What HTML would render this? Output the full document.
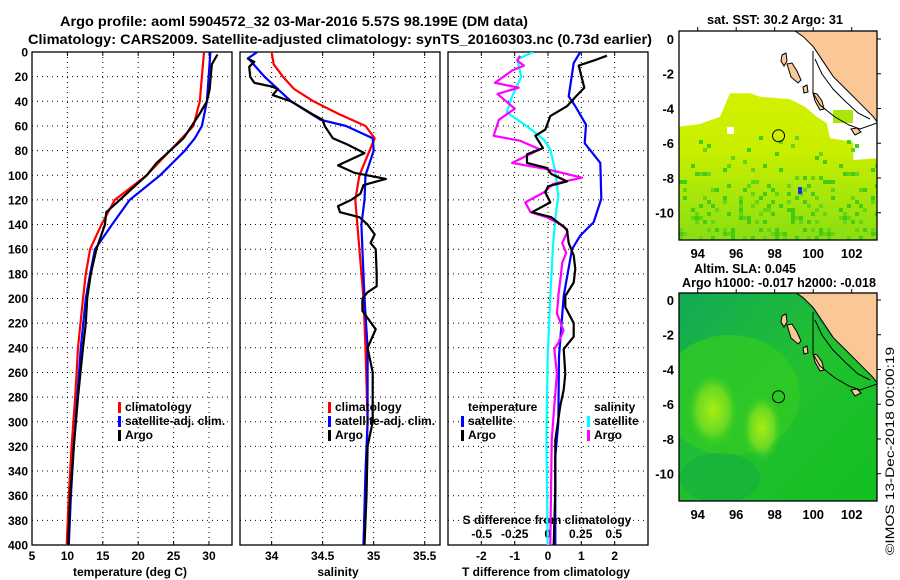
<!DOCTYPE html>
<html><head><meta charset="utf-8"><style>
html,body{margin:0;padding:0;background:#fff;}
svg{display:block;font-family:"Liberation Sans",sans-serif;font-weight:bold;}
</style></head><body>
<svg id="fig" width="900" height="580" viewBox="0 0 900 580" xmlns="http://www.w3.org/2000/svg">
<defs>
<clipPath id="c1"><rect x="32" y="52" width="200" height="493"/></clipPath>
<clipPath id="c2"><rect x="240" y="52" width="200" height="493"/></clipPath>
<clipPath id="c3"><rect x="448" y="52" width="200" height="493"/></clipPath>
<clipPath id="cm1"><rect x="679" y="31" width="198" height="209"/></clipPath>
<clipPath id="cm2"><rect x="679" y="293" width="198" height="208"/></clipPath>
<linearGradient id="sstg" x1="0" y1="0" x2="0" y2="1">
<stop offset="0" stop-color="#d4f000"/><stop offset="0.4" stop-color="#c8ee00"/><stop offset="0.7" stop-color="#a8e60a"/><stop offset="1" stop-color="#8ade12"/></linearGradient>
<radialGradient id="bl1" cx="0.5" cy="0.5" r="0.5"><stop offset="0" stop-color="#aaee11"/><stop offset="0.6" stop-color="#77dd22" stop-opacity="0.85"/><stop offset="1" stop-color="#33cc22" stop-opacity="0"/></radialGradient>
<linearGradient id="slag" x1="0" y1="0" x2="1" y2="1"><stop offset="0" stop-color="#11aa55"/><stop offset="0.5" stop-color="#22c030"/><stop offset="1" stop-color="#11c020"/></linearGradient>
</defs>
<text x="60" y="26" font-size="14" textLength="468" lengthAdjust="spacingAndGlyphs">Argo profile: aoml 5904572_32 03-Mar-2016 5.57S 98.199E (DM data)</text>
<text x="28" y="44" font-size="14" textLength="624" lengthAdjust="spacingAndGlyphs">Climatology: CARS2009. Satellite-adjusted climatology: synTS_20160303.nc (0.73d earlier)</text>
<g id="p1"></g>
<g id="p2"></g>
<g id="p3"></g>
<g id="m1"></g>
<g id="m2"></g>
<text font-size="12" style="font-weight:normal" transform="translate(894,555) rotate(-90)" textLength="208" lengthAdjust="spacingAndGlyphs">©IMOS 13-Dec-2018 00:00:19</text>
</svg>
<script>
// ---------- data ----------
const depthTicks = [0,20,40,60,80,100,120,140,160,180,200,220,240,260,280,300,320,340,360,380,400];
const tempTicks = [5,10,15,20,25,30];
const salTicks = [34,34.5,35,35.5];
const tdiffTicks = [-2,-1,0,1,2];
const sdiffTicks = [-0.5,-0.25,0,0.25,0.5];
const lonTicks = [94,96,98,100,102];
const latTicks = [0,-2,-4,-6,-8,-10];

const tClimDepth = [0,40,60,80,100,120,140,160,180,200,240,280,320,360,400];
const tClimVal   = [29.3,28.7,27.8,24.5,21.2,16.7,14.8,13.2,12.6,12.2,11.5,11.1,10.6,10.2,9.9];
const tSatDepth  = [0,40,60,70,80,100,120,140,160,180,200,240,280,320,360,400];
const tSatVal    = [30.2,29.7,29.0,28.0,26.6,23.1,18.8,16.3,13.9,13.2,12.6,11.9,11.4,10.9,10.5,10.2];
const tArgoDepth = [2,10,30,40,50,70,80,90,100,110,120,130,140,160,180,200,220,240,280,320,360,400];
const tArgoVal   = [31.2,30.4,30.1,29.7,28.7,26.4,24.5,22.6,21.2,19.3,17.4,15.5,15.3,14.1,13.3,12.8,12.6,12.2,11.5,10.9,10.4,10.1];

const sClimDepth = [0,10,20,30,40,50,60,70,80,100,120,160,200,240,300,360,400];
const sClimVal   = [34.0,34.02,34.11,34.22,34.41,34.65,34.92,35.01,34.96,34.86,34.82,34.86,34.90,34.92,34.94,34.92,34.90];
const sSatDepth  = [0,5,20,40,55,60,70,80,100,120,140,160,200,240,300,340,400];
const sSatVal    = [33.86,33.77,33.93,34.19,34.48,34.73,34.99,35.0,34.92,34.91,34.88,34.89,34.91,34.94,34.94,34.92,34.90];
const sArgoDepth = [5,8,12,20,25,28,30,35,40,50,55,60,70,75,82,92,98,103,108,115,120,125,130,134,140,148,155,160,180,190,195,200,210,225,240,260,300,320,360,400];
const sArgoVal   = [33.76,33.83,33.78,33.79,33.83,34.0,34.06,34.01,34.19,34.39,34.5,34.52,34.60,34.74,34.91,34.65,34.81,35.12,34.90,34.87,34.78,34.65,34.67,34.86,34.94,35.01,34.97,35.02,35.03,35.03,34.94,34.89,34.89,35.02,34.94,34.99,34.99,34.94,34.93,34.91];

const dtSatDepth = [0,9,36,44,59,74,90,119,138,149,160,198,247,301,328,400];
const dtSatVal   = [0.97,0.77,0.62,0.82,1.14,1.10,1.57,1.60,1.37,0.97,0.72,0.47,0.33,0.31,0.22,0.22];
const dtArgoDepth = [3,6,11,29,36,44,52,63,68,78,83,90,94,99,105,109,114,122,130,134,144,155,165,176,187,198,207,220,231,241,261,274,287,315,355,400];
const dtArgoVal   = [1.77,1.47,0.92,1.09,0.84,0.57,0.07,-0.08,-0.38,-0.15,-0.63,-0.63,-0.04,0.10,0.57,0.0,-0.08,0.07,-0.48,0.10,0.57,0.62,0.77,0.82,0.77,0.52,0.52,0.77,0.77,0.47,0.52,0.47,0.37,0.22,0.22,0.17];
const dsSatDepth = [0,6,20,36,49,60,71,79,98,117,133,157,198,247,312,400];
const dsSatVal   = [-0.11,-0.23,-0.20,-0.27,-0.31,-0.16,-0.03,0.02,0.06,0.08,0.06,0.04,0.02,0.0,-0.01,0.0];
const dsArgoDepth = [3,7,11,15,25,29,34,46,55,68,72,79,90,95,102,107,114,122,130,134,141,146,155,163,171,181,198,200,212,226,236,241,261,287,315,400];
const dsArgoVal   = [-0.21,-0.23,-0.18,-0.27,-0.40,-0.22,-0.38,-0.25,-0.37,-0.41,-0.21,-0.06,-0.27,-0.01,0.26,0.04,-0.03,-0.17,-0.13,-0.01,0.12,0.15,0.11,0.14,0.11,0.10,0.08,0.08,0.07,0.12,0.08,0.05,0.07,0.05,0.03,0.02];

const argoLon = 98.199, argoLat = -5.57;

// ---------- helpers ----------
const NS = "http://www.w3.org/2000/svg";
function mk(parent, tag, attrs, text){
  const e = document.createElementNS(NS, tag);
  for (const k in attrs) e.setAttribute(k, attrs[k]);
  if (text !== undefined) e.textContent = text;
  parent.appendChild(e); return e;
}
const Y0 = 52, Y1 = 545;
const yD = d => Y0 + d*(Y1-Y0)/400;

function panel(g, x0, x1, vmin, vmax){
  const xs = v => x0 + (v - vmin)*(x1-x0)/(vmax-vmin);
  const grid = mk(g,'g',{});
  
  
  depthTicks.forEach(d=>{ if(d>0&&d<400){ const l=mk(grid,'line',{x1:x0,x2:x1,y1:yD(d),y2:yD(d),stroke:'#000','stroke-width':1,'stroke-dasharray':'1,4'});
    
     }});
  const fr = mk(g,'rect',{x:x0,y:Y0,width:x1-x0,height:Y1-Y0,fill:'none',stroke:'#000','stroke-width':1.3});
  
  
  return {xs};
}
function vgrid(g, xs, vals){
  vals.forEach(v=>{ const x=xs(v);
    const l=mk(g,'line',{x1:x,x2:x,y1:Y0,y2:Y1,stroke:'#000','stroke-width':1,'stroke-dasharray':'1,4'});
    
    
    const t1=mk(g,'line',{x1:x,x2:x,y1:Y0,y2:Y0+4,stroke:'#000'});
    
    
    const t2=mk(g,'line',{x1:x,x2:x,y1:Y1,y2:Y1-4,stroke:'#000'});
    
    
  });
}
function series(g, xs, clip, depths, vals, color, name){
  const pts = depths.map((d,i)=> xs(vals[i]).toFixed(1)+','+yD(d).toFixed(1)).join(' ');
  const p = mk(g,'polyline',{points:pts,fill:'none',stroke:color,'stroke-width':2.2,'clip-path':'url(#'+clip+')','stroke-linejoin':'round'});
  
  
}
function label(g, x, y, txt, name, anchor, size){
  const t = mk(g,'text',{x:x,y:y,'font-size':size||12,'text-anchor':anchor||'middle'}, txt);
  
  
  return t;
}
function legend(g, x, y, color, txt){
  const r = mk(g,'rect',{x:x,y:y-9,width:3,height:11,fill:color});
  
  
  label(g, x+7, y, txt, 'legend-entry', 'start', 12);
}

// ---------- panel 1: temperature ----------
const g1 = document.getElementById('p1');
const P1 = panel(g1, 32, 232, 5, 33.25);
vgrid(g1, P1.xs, [10,15,20,25,30]);
depthTicks.forEach(d=> label(g1, 28, yD(d)+4.5, String(d), 'y-tick-label', 'end', 12));
tempTicks.forEach(v=> label(g1, P1.xs(v), 560, String(v), 'x-tick-label'));
label(g1, 130, 576, 'temperature (deg C)', 'x-axis-title');
series(g1, P1.xs, 'c1', tClimDepth, tClimVal, '#ff0000', 'temp-climatology-line');
series(g1, P1.xs, 'c1', tSatDepth, tSatVal, '#0000ff', 'temp-satellite-line');
series(g1, P1.xs, 'c1', tArgoDepth, tArgoVal, '#000000', 'temp-argo-line');
legend(g1, 118, 411, '#ff0000', 'climatology');
legend(g1, 118, 425, '#0000ff', 'satellite-adj. clim.');
legend(g1, 118, 439, '#000000', 'Argo');

// ---------- panel 2: salinity ----------
const g2 = document.getElementById('p2');
const P2 = panel(g2, 240, 440, 33.69, 35.65);
vgrid(g2, P2.xs, salTicks);
salTicks.forEach(v=> label(g2, P2.xs(v), 560, String(v), 'x-tick-label'));
label(g2, 338, 576, 'salinity', 'x-axis-title');
series(g2, P2.xs, 'c2', sClimDepth, sClimVal, '#ff0000', 'sal-climatology-line');
series(g2, P2.xs, 'c2', sSatDepth, sSatVal, '#0000ff', 'sal-satellite-line');
series(g2, P2.xs, 'c2', sArgoDepth, sArgoVal, '#000000', 'sal-argo-line');
legend(g2, 328, 411, '#ff0000', 'climatology');
legend(g2, 328, 425, '#0000ff', 'satellite-adj. clim.');
legend(g2, 328, 439, '#000000', 'Argo');

// ---------- panel 3: differences ----------
const g3 = document.getElementById('p3');
const P3 = panel(g3, 448, 648, -3, 3);
const xsS = v => 547.7 + v*132;
vgrid(g3, P3.xs, tdiffTicks);
tdiffTicks.forEach(v=> label(g3, P3.xs(v), 560, String(v), 'x-tick-label'));
label(g3, 546, 576, 'T difference from climatology', 'x-axis-title');
label(g3, 547, 524, 'S difference from climatology', 'secondary-axis-title');
sdiffTicks.forEach(v=> label(g3, xsS(v), 538, String(v), 'secondary-tick-label'));
series(g3, xsS, 'c3', dsSatDepth, dsSatVal, '#00ffff', 'sdiff-satellite-line');
series(g3, P3.xs, 'c3', dtSatDepth, dtSatVal, '#0000ff', 'tdiff-satellite-line');
series(g3, xsS, 'c3', dsArgoDepth, dsArgoVal, '#ff00ff', 'sdiff-argo-line');
series(g3, P3.xs, 'c3', dtArgoDepth, dtArgoVal, '#000000', 'tdiff-argo-line');
label(g3, 468, 411, 'temperature', 'legend-header', 'start');
legend(g3, 461, 425, '#0000ff', 'satellite');
legend(g3, 461, 439, '#000000', 'Argo');
label(g3, 594, 411, 'salinity', 'legend-header', 'start');
legend(g3, 587, 425, '#00ffff', 'satellite');
legend(g3, 587, 439, '#ff00ff', 'Argo');

// ---------- maps ----------
const MX0 = 679, MX1 = 877;
const lonX = lon => 697.7 + (lon-94)*19.25;
function coast(g, off, clip){
  const gg = mk(g,'g',{'clip-path':'url(#'+clip+')'});
  const land = mk(gg,'polygon',{points:[[795,-8],[803.3,-2.3],[813.3,7.7],[823.3,22.7],[833.3,37.7],[846.7,51],[860,64.3],[873.3,77.7],[877,82.7],[880,82.7],[880,-8]].map(p=>p[0]+','+(p[1]+off)).join(' '),fill:'#fac896',stroke:'#000','stroke-width':1});
  
  
  const islands = [[[782,16],[786,14],[787,22],[784,27],[781,22]],[[787,25],[792,24],[797,32],[801,41],[798,44],[791,38]],[[803,48],[807,46],[808,53],[804,54]],[[813,54],[817,55],[822,62],[824,70],[820,71],[815,62]],[[851,90],[857,89],[861,93],[855,96]]];
  islands.forEach(pts=>{ const p=mk(gg,'polygon',{points:pts.map(q=>q[0]+','+(q[1]+off)).join(' '),fill:'#fac896',stroke:'#000','stroke-width':1});
    
     });
  const c1 = mk(gg,'polyline',{points:[[813,12],[813,54],[820,66],[835,78],[849,86],[860,90],[877,84]].map(q=>q[0]+','+(q[1]+off)).join(' '),fill:'none',stroke:'#000','stroke-width':1});
  
  
  const c2 = mk(gg,'polyline',{points:[[815,20],[822,35],[833,50],[845,62],[858,74],[870,80]].map(q=>q[0]+','+(q[1]+off)).join(' '),fill:'none',stroke:'#000','stroke-width':1});
  
  
}
function mapAxes(g, latY, yTop, yBot){
  const fr = mk(g,'rect',{x:MX0,y:yTop,width:MX1-MX0,height:yBot-yTop,fill:'none',stroke:'#000','stroke-width':1.3});
  
  
  latTicks.forEach(l=>{ const y=latY(l);
    label(g, 674, y+5, String(l), 'lat-tick-label', 'end', 13);
    const t=mk(g,'line',{x1:MX1,x2:MX1+4,y1:y,y2:y,stroke:'#000'});
    
    
  });
  lonTicks.forEach(l=>{ const x=lonX(l);
    label(g, x, yBot+18, String(l), 'lon-tick-label', 'middle', 13);
    const t=mk(g,'line',{x1:x,x2:x,y1:yTop,y2:yTop-4,stroke:'#000'});
    
    
  });
}
// SST map
const m1 = document.getElementById('m1');
const lat1 = lat => 39 - lat*17.37;
const t1 = label(m1, 775, 24, 'sat. SST: 30.2 Argo: 31', 'sst-map-title', 'middle', 13);
t1.setAttribute('textLength','136'); t1.setAttribute('lengthAdjust','spacingAndGlyphs');
const sst = mk(m1,'polygon',{points:'679,126.7 700,124 720,116.7 730,93.3 750,93.3 760,96.7 790,99.3 805,106.7 816.7,116.7 826.7,123.3 830,138.3 853.3,141.7 853.3,160 877,158.3 877,240 679,240',fill:'url(#sstg)'});


const sstp = mk(m1,'polygon',{points:'833,110 853,110 853,123 833,123',fill:'#aae60a'});


const cells = mk(m1,'g',{'clip-path':'url(#cm1)'});
for(let i=0;i<50;i++){ for(let j=0;j<28;j++){
  const x = 679 + i*4, y = 128 + j*4;
  const h = ((i*73 + j*151 + i*j*17) % 37);
  if (y > 135 && h < 2 + Math.max(0,(y-160)/8)) {
    const r = mk(cells,'rect',{x:x,y:y,width:4,height:4,fill: h%2? '#66d514':'#44cc10'});
    
    
  }}}
const wh = mk(m1,'rect',{x:727,y:127,width:7,height:7,fill:'#fff'});


const bluecell = mk(m1,'rect',{x:798,y:187,width:4,height:7,fill:'#1133ee'});


coast(m1, 39, 'cm1');
const ci1 = mk(m1,'circle',{cx:lonX(argoLon),cy:lat1(argoLat),r:6,fill:'none',stroke:'#000','stroke-width':1});


mapAxes(m1, lat1, 31, 240);

// SLA map
const m2 = document.getElementById('m2');
const lat2 = lat => 300 - lat*17.37;
const gb = mk(m2,'g',{'clip-path':'url(#cm2)'});
const bg = mk(gb,'rect',{x:MX0,y:293,width:198,height:208,fill:'url(#slag)'});


const ew = mk(gb,'ellipse',{cx:730,cy:395,rx:70,ry:60,fill:'#33cc22',opacity:0.7});


const b1 = mk(gb,'ellipse',{cx:713,cy:410,rx:26,ry:38,fill:'url(#bl1)'});


const b2 = mk(gb,'ellipse',{cx:762,cy:428,rx:20,ry:34,fill:'url(#bl1)'});


const bs = mk(gb,'ellipse',{cx:720,cy:478,rx:40,ry:25,fill:'#11aa44',opacity:0.5});


const shelf = mk(gb,'polygon',{points:'795,293 812,310 830,335 850,355 877,372 877,293',fill:'#11aa44'});


coast(m2, 300, 'cm2');
const ci2 = mk(m2,'circle',{cx:lonX(argoLon),cy:lat2(argoLat),r:6,fill:'none',stroke:'#000','stroke-width':1});


mapAxes(m2, lat2, 293, 501);
const t2 = label(m2, 745, 273, 'Altim. SLA: 0.045', 'sla-map-title', 'middle', 13);
t2.setAttribute('textLength','102'); t2.setAttribute('lengthAdjust','spacingAndGlyphs');
const t3 = label(m2, 779, 287, 'Argo h1000: -0.017 h2000: -0.018', 'sla-map-subtitle', 'middle', 13);
t3.setAttribute('textLength','194'); t3.setAttribute('lengthAdjust','spacingAndGlyphs');
</script>
</body></html>
